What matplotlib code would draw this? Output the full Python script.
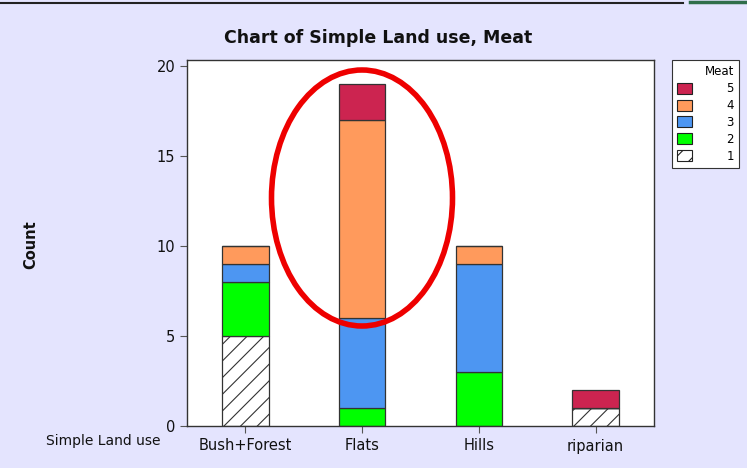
import matplotlib
matplotlib.use("Agg")
import matplotlib.pyplot as plt
from matplotlib.patches import Patch, Ellipse
from matplotlib.lines import Line2D
import numpy as np

categories = ["Bush+Forest", "Flats", "Hills", "riparian"]
meat_levels = ["1", "2", "3", "4", "5"]
meat1 = [5, 0, 0, 1]
meat2 = [3, 1, 3, 0]
meat3 = [1, 5, 6, 0]
meat4 = [1, 11, 1, 0]
meat5 = [0, 2, 0, 1]
series = [meat1, meat2, meat3, meat4, meat5]
yticks = [0, 5, 10, 15, 20]

colors = ["white", "#00FF00", "#4D96F2", "#FF9A5C", "#CC2450"]
hatches = ["//", None, None, None, None]
bg = "#E4E4FE"

plt.rcParams["hatch.color"] = "#555555"
plt.rcParams["hatch.linewidth"] = 0.8

fig = plt.figure(figsize=(7.47, 4.68), dpi=100, facecolor=bg)
ax = fig.add_axes([187/747, 1-426/468, (654-187)/747, (426-60)/468])
ax.set_facecolor("white")

x = np.arange(len(categories))
bottom = np.zeros(len(categories))
for vals, c, h in zip(series, colors, hatches):
    v = np.array(vals, dtype=float)
    ax.bar(x, v, width=0.4, bottom=bottom, color=c, edgecolor="#333333",
           linewidth=0.9, hatch=h)
    bottom += v

ax.set_xlim(-0.5, 3.5)
ax.set_ylim(0, 20.33)
ax.set_yticks(yticks)
ax.set_xticks(x)
ax.set_xticklabels(categories)
ax.tick_params(axis="both", direction="out", length=5, width=0.8, color="#555555",
               labelsize=10.5, labelcolor="#111111")
ax.tick_params(axis="x", pad=4)
for s in ax.spines.values():
    s.set_color("#333333")
    s.set_linewidth(1.0)

fig.text(378/747, 1-38/468, "Chart of Simple Land use, Meat", ha="center", va="center",
         fontsize=12.5, fontweight="bold", color="#111111")
fig.text(31/747, 1-245/468, "Count", ha="center", va="center", rotation=90,
         fontsize=10.5, fontweight="bold", color="#111111")
fig.text(103/747, 1-441/468, "Simple Land use", ha="center", va="center",
         fontsize=10, color="#111111")

handles = [Patch(facecolor=colors[i], edgecolor="#222222", hatch=hatches[i], linewidth=0.8)
           for i in range(4, -1, -1)]
labels = [meat_levels[i] for i in range(4, -1, -1)]
leg = fig.legend(handles, labels, title="Meat", loc="upper left",
                 bbox_to_anchor=(672/747, 1-60/468), borderaxespad=0,
                 fontsize=8.5, title_fontsize=8.5,
                 frameon=True, fancybox=False, edgecolor="#333333", framealpha=1,
                 handlelength=1.25, handleheight=1.05, handletextpad=2.9,
                 labelspacing=0.33, borderpad=0.45, alignment="right")
leg.get_frame().set_linewidth(0.8)

ell = Ellipse((362/747, 1-198/468), 181/747, 256/468, transform=fig.transFigure,
              fill=False, edgecolor="#EE0000", linewidth=4, clip_on=False)
fig.add_artist(ell)

fig.add_artist(Line2D([0, 683/747], [1-3/468, 1-3/468], transform=fig.transFigure,
                      color="#222222", linewidth=1.5))
fig.add_artist(Line2D([690/747, 1], [1-1.5/468, 1-1.5/468],
               transform=fig.transFigure, color="#2F6E4A", linewidth=2.5))

fig.savefig("out.png", dpi=100, facecolor=bg)
